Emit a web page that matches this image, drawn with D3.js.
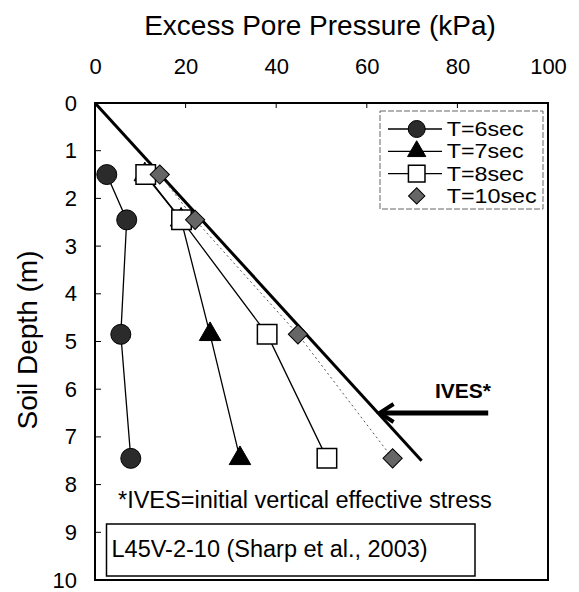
<!DOCTYPE html>
<html>
<head>
<meta charset="utf-8">
<script src="https://cdn.jsdelivr.net/npm/d3@7"></script>
<style>
  body { margin: 0; background: #fff; }
  text { font-family: Arial, "Liberation Sans", sans-serif; fill: #000; }
</style>
</head>
<body>
<div class="graph"></div>
<script>
// Data (L45V-2-10, Sharp et al., 2003)
var depths = [1.5, 2.45, 4.85, 7.45];
var t6 = [2.6, 7.0, 5.7, 7.9];
var t7 = [11.0, 19.0, 25.4, 32.0];
var t8 = [11.2, 19.1, 38.0, 51.2];
var t10 = [14.3, 22.1, 44.8, 65.7];
var ivesDepth = [0, 7.5];
var ivesPressure = [0, 72.1];
var arrowDepth = 6.5;
var arrowFrom = 86.8, arrowTo = 62.6;
var xTicks = [0, 20, 40, 60, 80, 100];
var yTicks = [0, 1, 2, 3, 4, 5, 6, 7, 8, 9, 10];
var seriesNames = ["T=6sec", "T=7sec", "T=8sec", "T=10sec"];

// Initialization of the display
const margin = {top: 103, right: 31, bottom: 7, left: 95},
  width = 579 - margin.left - margin.right,
  height = 592 - margin.top - margin.bottom;

var svg = d3.select(".graph")
  .append("svg")
  .attr("width", 579)
  .attr("height", 592);

var g = svg.append("g")
  .attr("transform", "translate(" + margin.left + "," + margin.top + ")");

var x = d3.scaleLinear().domain([0, 100]).range([0, width]);
var y = d3.scaleLinear().domain([0, 10]).range([0, height - 5]);

// Tick labels (top) and inner tick marks
var xAxis = g.append("g")
  .call(d3.axisTop(x).tickValues(xTicks).tickSize(0).tickPadding(29))
xAxis.select(".domain").remove();
xAxis.selectAll("text").style("font-size", "22px");

g.selectAll(".xtick")
  .data(xTicks.slice(1, -1))
  .enter().append("line")
  .attr("x1", d => x(d)).attr("x2", d => x(d))
  .attr("y1", 0).attr("y2", 5)
  .attr("stroke", "#000").attr("stroke-width", 1);

var yAxis = g.append("g")
  .call(d3.axisLeft(y).tickValues(yTicks).tickSize(0).tickPadding(18))
yAxis.select(".domain").remove();
yAxis.selectAll("text").style("font-size", "22px");

g.selectAll(".ytick")
  .data(yTicks.slice(1, -1))
  .enter().append("line")
  .attr("x1", 0).attr("x2", 6)
  .attr("y1", d => y(d)).attr("y2", d => y(d))
  .attr("stroke", "#000").attr("stroke-width", 1);

// Plot frame
g.append("rect")
  .attr("x", 0).attr("y", 0)
  .attr("width", width).attr("height", y(10))
  .attr("fill", "none")
  .attr("stroke", "#000")
  .attr("stroke-width", 2);

// Axis titles
svg.append("text")
  .attr("x", 320).attr("y", 35)
  .attr("text-anchor", "middle")
  .style("font-size", "28px")
  .text("Excess Pore Pressure (kPa)");

svg.append("text")
  .attr("transform", "translate(37,340) rotate(-90)")
  .attr("text-anchor", "middle")
  .style("font-size", "28px")
  .text("Soil Depth (m)");

// IVES line
g.append("line")
  .attr("x1", x(ivesPressure[0])).attr("y1", y(ivesDepth[0]))
  .attr("x2", x(ivesPressure[1])).attr("y2", y(ivesDepth[1]))
  .attr("stroke", "#000").attr("stroke-width", 3);

// Series lines
var line = d3.line()
  .x(d => x(d[0]))
  .y(d => y(d[1]));

var series = [t6, t7, t8, t10].map(function(vals) {
  return vals.map((v, i) => [v, depths[i]]);
});

series.forEach(function(pts, i) {
  g.append("path")
    .datum(pts)
    .attr("d", line)
    .attr("fill", "none")
    .attr("stroke", i == 3 ? "#555" : "#000")
    .attr("stroke-width", i == 3 ? 1 : 1.3)
    .attr("stroke-dasharray", i == 3 ? "2,3" : null);
});

// Marker drawing (diamond = square turned 45 degrees)
var symbols = [
  d3.symbol().type(d3.symbolCircle),
  d3.symbol().type(d3.symbolTriangle),
  d3.symbol().type(d3.symbolSquare),
  d3.symbol().type(d3.symbolSquare)
];
var fills = ["#2b2b2b", "#000", "#fff", "#666"];
var sizes = [314, 200, 380, 185];

function marker(sel, i, scale) {
  sel.attr("d", symbols[i].size(sizes[i] * scale * scale)())
    .attr("fill", fills[i])
    .attr("stroke", "#000")
    .attr("stroke-width", i == 2 ? 1.5 : 1);
}

function place(px, py, i) {
  return "translate(" + px + "," + py + ")" + (i == 3 ? " rotate(45)" : "");
}

// squares hide the triangles underneath, diamonds on top
[0, 1, 2, 3].forEach(function(i) {
  g.selectAll(".m" + i)
    .data(series[i])
    .enter().append("path")
    .attr("transform", d => place(x(d[0]), y(d[1]), i))
    .call(marker, i, 1);
});

// IVES arrow
var ay = y(arrowDepth);
g.append("line")
  .attr("x1", x(arrowFrom)).attr("y1", ay)
  .attr("x2", x(arrowTo) + 3).attr("y2", ay)
  .attr("stroke", "#000").attr("stroke-width", 5);
g.append("path")
  .attr("d", "M" + (x(arrowTo) + 15) + "," + (ay - 9) + "L" + (x(arrowTo) + 1) + "," + ay + "L" + (x(arrowTo) + 15) + "," + (ay + 9))
  .attr("fill", "none")
  .attr("stroke", "#000")
  .attr("stroke-width", 4);

svg.append("text")
  .attr("x", 435).attr("y", 398)
  .style("font-size", "21px")
  .style("font-weight", "bold")
  .text("IVES*");

// Footnote and case label
svg.append("text")
  .attr("x", 118).attr("y", 508)
  .style("font-size", "23.5px")
  .text("*IVES=initial vertical effective stress");

svg.append("rect")
  .attr("x", 106.5).attr("y", 524)
  .attr("width", 368.5).attr("height", 52)
  .attr("fill", "#fff")
  .attr("stroke", "#000")
  .attr("stroke-width", 1.5);

svg.append("text")
  .attr("x", 111.5).attr("y", 557)
  .style("font-size", "23.5px")
  .text("L45V-2-10 (Sharp et al., 2003)");

// Legend
var legend = svg.append("g").attr("transform", "translate(380,111)");
legend.append("rect")
  .attr("width", 163).attr("height", 98)
  .attr("fill", "#fff")
  .attr("stroke", "#666")
  .attr("stroke-width", 1)
  .attr("stroke-dasharray", "6,2");

seriesNames.forEach(function(name, i) {
  var ry = 18 + i * 22.3;
  if (i < 3) {
    legend.append("line")
      .attr("x1", 8).attr("x2", 62)
      .attr("y1", ry).attr("y2", ry)
      .attr("stroke", "#000").attr("stroke-width", 1.3);
  }
  legend.append("path")
    .attr("transform", place(36.7, ry, i))
    .call(marker, i, 0.85);
  legend.append("text")
    .attr("x", 66.7).attr("y", ry + 7)
    .style("font-size", "20px")
    .attr("textLength", [77, 77, 77, 90][i])
    .attr("lengthAdjust", "spacingAndGlyphs")
    .text(name);
});
</script>
</body>
</html>
